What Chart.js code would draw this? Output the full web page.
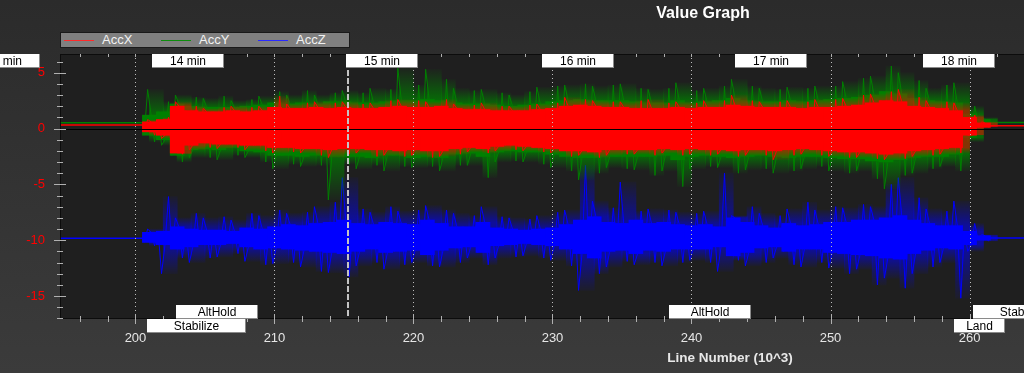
<!DOCTYPE html>
<html>
<head>
<meta charset="utf-8">
<script src="https://cdn.jsdelivr.net/npm/chart.js@4.4.1/dist/chart.umd.min.js"></script>
<style>
  html, body { margin: 0; padding: 0; }
  body {
    width: 1024px; height: 373px; overflow: hidden; position: relative;
    background: linear-gradient(#2b2b2b, #3b3b3b);
    font-family: "Liberation Sans", Arial, sans-serif;
  }
  #chart { position: absolute; left: 0; top: 0; }
  #title {
    position: absolute; left: 603px; width: 200px; top: 5px; text-align: center;
    color: #fff; font-weight: bold; font-size: 16px; line-height: 16px;
  }
  #legend {
    position: absolute; left: 60px; top: 32px; width: 288px; height: 14px;
    background: #808080; border: 1px solid #1a1a1a;
  }
  #legend .sw { position: absolute; top: 7px; width: 30px; height: 1px; }
  #legend .lbl { position: absolute; top: 0; color: #f2f2f2; font-size: 13px; line-height: 14px; }
  #xtitle {
    position: absolute; left: 630px; width: 200px; top: 351px; text-align: center;
    color: #e8e8e8; font-weight: bold; font-size: 13.5px; line-height: 14px;
  }
</style>
</head>
<body>
<canvas id="chart" width="1024" height="373"></canvas>
<div id="title">Value Graph</div>
<div id="legend"></div>
<div id="xtitle">Line Number (10^3)</div>
<script>
// line number bins (x 1000) during the flight
const bins = Array.from({ length: 61 }, (_, i) => 201 + i);

// AccX: dense band and extreme spikes per bin
const accXHi = [0.6,0.8,2.0,1.6,1.5,1.5,1.6,1.5,1.6,1.9, 1.8,1.8,1.9,1.8,1.9,1.8,1.8,1.9,2.0,1.9, 1.9,2.0,1.8,1.7,1.7,1.6,1.6,1.6,1.7,1.8, 2.0,2.1,2.0,1.9,1.9,1.8,1.8,1.8,1.9,1.8, 1.9,1.9,2.1,2.0,1.9,1.9,1.9,1.8,1.9,1.9, 2.0,2.1,2.3,2.5,2.4,2.0,1.9,1.8,1.6,1.0, 0.5];
const accXLo = [-0.3,-0.6,-2.2,-1.5,-1.3,-1.4,-1.4,-1.5,-1.5,-1.7, -1.7,-1.8,-1.8,-1.9,-1.8,-1.8,-1.9,-1.9,-2.0,-1.9, -2.0,-2.0,-1.8,-1.7,-1.8,-1.6,-1.5,-1.6,-1.7,-1.8, -2.0,-2.0,-2.1,-1.9,-1.9,-1.9,-1.9,-1.8,-1.9,-1.8, -1.9,-1.9,-2.0,-1.9,-1.9,-2.0,-1.9,-1.8,-1.9,-2.0, -2.1,-2.1,-2.2,-2.3,-2.2,-2.0,-1.9,-1.8,-1.7,-0.6, 0.1];
const accXPkHi = [0.8,1.0,2.4,2.0,1.8,1.9,2.0,1.9,2.0,2.9, 2.2,2.3,2.4,2.3,2.4,2.2,2.3,2.5,2.6,2.5, 2.4,2.6,2.2,2.1,2.3,2.0,2.0,2.1,2.2,2.3, 2.8,2.6,2.5,2.4,2.4,2.5,2.6,2.3,2.4,2.3, 2.5,2.5,3.0,2.5,2.4,2.4,2.5,2.4,2.6,2.6, 2.7,3.0,3.1,3.3,3.5,2.8,2.5,2.4,2.3,1.2, 0.6];
const accXPkLo = [-0.6,-0.9,-2.3,-1.9,-1.7,-1.8,-1.7,-1.9,-2.0,-2.2, -2.1,-2.2,-2.4,-2.6,-2.3,-2.2,-2.5,-2.4,-2.5,-2.4, -2.6,-2.5,-2.3,-2.1,-2.2,-2.0,-1.9,-2.0,-2.1,-2.2, -2.5,-2.4,-2.6,-2.4,-2.3,-2.3,-2.4,-2.2,-2.4,-2.3, -2.4,-2.3,-2.5,-2.4,-2.4,-2.8,-2.4,-2.3,-2.4,-2.5, -2.6,-2.6,-2.7,-2.8,-2.7,-2.5,-2.4,-2.3,-2.2,-0.6, 0.1];

// AccY
const accYHi = [1.2,1.5,2.2,2.0,1.9,1.9,1.9,2.0,2.1,2.3, 2.2,2.3,2.2,2.4,2.4,2.3,2.3,2.4,2.5,2.5, 2.6,2.5,2.3,2.2,2.2,2.1,2.0,2.1,2.2,2.4, 2.5,2.6,2.5,2.5,2.5,2.4,2.3,2.3,2.5,2.3, 2.4,2.5,2.7,2.5,2.4,2.4,2.5,2.4,2.5,2.6, 2.7,2.8,3.0,3.3,3.1,2.7,2.5,2.4,2.3,1.3, 0.8];
const accYLo = [-0.6,-1.0,-2.4,-1.9,-1.8,-1.9,-1.7,-2.0,-2.1,-2.4, -2.4,-2.5,-2.4,-2.5,-2.5,-2.5,-2.6,-2.4,-2.4,-2.6, -2.5,-2.6,-2.3,-2.2,-2.5,-2.1,-2.0,-2.1,-2.1,-2.3, -2.5,-2.6,-2.6,-2.5,-2.5,-2.5,-2.5,-2.4,-2.8,-2.5, -2.4,-2.5,-2.6,-2.5,-2.4,-2.5,-2.6,-2.5,-2.5,-2.6, -2.7,-2.7,-2.9,-3.0,-2.8,-2.6,-2.5,-2.5,-2.3,-0.8, 0.35];
const accYPkHi = [3.5,2.4,3.0,2.8,2.7,2.9,2.5,2.6,2.9,3.3, 3.0,3.4,3.0,3.2,3.4,3.2,3.6,3.5,5.4,3.9, 5.3,4.4,3.6,3.4,3.5,3.2,3.0,3.3,3.7,3.8, 3.9,4.0,3.8,3.9,4.0,3.6,3.5,3.6,4.1,3.4, 3.6,3.8,4.4,3.8,3.6,3.5,3.7,3.6,3.8,3.8, 4.2,4.5,4.7,5.6,5.0,4.3,3.6,3.9,4.1,2.0, 1.0];
const accYPkLo = [-1.2,-1.5,-3.0,-2.6,-2.6,-2.8,-2.4,-2.6,-3.0,-3.6, -3.2,-3.4,-3.3,-6.4,-3.2,-3.6,-3.3,-3.8,-3.4,-3.5, -3.4,-3.8,-3.3,-3.3,-4.4,-3.0,-2.9,-3.0,-3.2,-3.5, -3.8,-4.6,-4.0,-3.5,-3.6,-3.7,-4.2,-3.8,-5.2,-3.6, -3.4,-3.5,-4.0,-3.7,-3.6,-4.0,-3.8,-3.6,-3.4,-3.8, -4.0,-3.8,-4.5,-5.4,-4.2,-4.0,-3.6,-3.4,-3.8,-1.2, 0.2];

// AccZ
const accZHi = [-9.3,-9.2,-8.8,-9.0,-9.1,-9.1,-9.2,-8.9,-9.0,-8.8, -8.6,-8.7,-8.5,-8.4,-8.2,-8.5,-8.6,-8.4,-8.5,-8.6, -8.2,-8.5,-8.8,-8.8,-8.4,-8.9,-9.0,-9.1,-9.0,-8.9, -8.6,-8.2,-7.9,-8.4,-8.5,-8.2,-8.5,-8.4,-8.6,-8.7, -8.6,-8.8,-8.0,-8.4,-8.7,-8.9,-8.5,-8.7,-8.6,-8.4, -8.4,-8.2,-8.2,-8.0,-7.8,-8.2,-8.5,-8.7,-8.7,-9.2, -9.6];
const accZLo = [-10.2,-10.4,-10.8,-10.6,-10.4,-10.4,-10.3,-10.6,-10.8,-10.7, -10.8,-10.9,-11.0,-11.1,-11.2,-11.0,-10.8,-11.1,-11.0,-10.9, -11.3,-10.9,-10.7,-10.6,-11.1,-10.5,-10.4,-10.3,-10.4,-10.5, -10.8,-11.2,-11.6,-11.0,-10.9,-11.2,-10.9,-11.0,-10.8,-10.8, -10.8,-10.6,-11.4,-11.1,-10.7,-10.6,-11.0,-10.8,-10.8,-11.1, -11.2,-11.3,-11.4,-11.6,-11.7,-11.2,-10.9,-10.7,-10.8,-10.4, -10.0];
const accZPkHi = [-9.0,-6.1,-8.0,-7.6,-8.0,-7.9,-8.2,-7.6,-7.8,-7.3, -7.6,-7.5,-7.0,-6.6,-4.4,-7.2,-7.5,-7.0,-7.4,-7.3, -6.9,-7.3,-7.6,-7.8,-7.0,-7.9,-8.0,-8.1,-7.8,-7.5, -7.3,-3.3,-6.5,-7.1,-4.8,-7.4,-7.2,-7.3,-7.5,-7.6, -7.4,-4.0,-7.8,-7.0,-7.6,-7.8,-7.2,-6.6,-7.3,-7.0, -7.1,-6.8,-7.0,-5.0,-4.4,-6.2,-7.2,-7.4,-6.5,-8.5, -9.5];
const accZPkLo = [-10.5,-13.0,-11.6,-12.0,-11.6,-11.5,-11.2,-11.9,-12.2,-12.1, -12.0,-12.4,-12.8,-12.9,-13.3,-12.3,-12.0,-12.6,-12.2,-12.0, -12.3,-12.4,-12.0,-11.6,-12.2,-11.6,-11.5,-11.4,-11.6,-11.8, -12.3,-14.5,-13.0,-12.4,-11.9,-12.2,-12.0,-12.3,-12.0,-11.8, -12.0,-12.8,-11.8,-12.3,-12.0,-11.6,-12.2,-12.4,-12.0,-12.5, -13.0,-12.6,-14.0,-13.4,-14.3,-13.0,-12.4,-12.0,-15.2,-11.0, -10.1];

// resting values before take-off and after landing
const restX = [194.5, 200.7, 261.3, 264];
const accXRest = [0.31, 0.31, 0.25, 0.25];
const accYRest = [0.52, 0.52, 0.55, 0.55];
const accZRest = [-9.83, -9.83, -9.8, -9.8];

const xTickValues = [200, 210, 220, 230, 240, 250, 260];
const yTickValues = [5, 0, -5, -10, -15];

const minuteLabels = ['13 min', '14 min', '15 min', '16 min', '17 min', '18 min'];
const minuteLines = [187.96, 201.17, 215.12, 229.23, 243.13, 256.64];
const markerLine = 215.31;

const modeNames = ['Stabilize', 'AltHold', 'AltHold', 'Land', 'Stabilize'];
const modeLines = [200.81, 202.9, 238.38, 258.91, 260.28];

const seriesNames = ['AccX', 'AccY', 'AccZ'];

// ---- styles ----
const seriesColors = ['#ff0000', '#008000', '#0000ff'];
const seriesRgb = ['255,0,0', '0,128,0', '0,0,255'];
const fringeAlpha = [0.5, 0.75, 0.55];
const legendColors = ['#ff2a2a', '#0c8c0c', '#2a2aff'];
const modeRows = [1, 0, 0, 1, 0]; // 1 = below the axis
const FONT = '"Liberation Sans", Arial, sans-serif';

const legend = document.getElementById('legend');
seriesNames.forEach((name, i) => {
  const sw = document.createElement('span');
  sw.className = 'sw';
  sw.style.left = (3 + i * 97) + 'px';
  sw.style.background = legendColors[i];
  legend.appendChild(sw);
  const lbl = document.createElement('span');
  lbl.className = 'lbl';
  lbl.style.left = (41 + i * 97) + 'px';
  lbl.textContent = name;
  legend.appendChild(lbl);
});

const series = [
  { hi: accXHi, lo: accXLo, pkHi: accXPkHi, pkLo: accXPkLo, rest: accXRest },
  { hi: accYHi, lo: accYLo, pkHi: accYPkHi, pkLo: accYPkLo, rest: accYRest },
  { hi: accZHi, lo: accZLo, pkHi: accZPkHi, pkLo: accZPkLo, rest: accZRest }
];

function bandData(lo, hi, shift) {
  return bins.map((b, i) => ({ x: b + shift, y: [lo[i], hi[i]] }));
}

// trace through band edges and peaks of every bin
function traceData(s) {
  const pts = [];
  bins.forEach((b, i) => {
    const seq = i % 2
      ? [s.hi[i], s.pkLo[i], s.lo[i], s.pkHi[i]]
      : [s.lo[i], s.pkHi[i], s.hi[i], s.pkLo[i]];
    seq.forEach((v, k) => pts.push({ x: b - 0.375 + k * 0.25, y: v }));
  });
  return pts;
}

function restData(vals) {
  return [
    { x: restX[0], y: vals[0] }, { x: restX[1], y: vals[1] },
    { x: 230, y: null },
    { x: restX[2], y: vals[2] }, { x: restX[3], y: vals[3] }
  ];
}

const clamp01 = v => Math.max(0, Math.min(1, v));

function fringeFill(s, k) {
  return (c) => {
    const yScale = c.chart.scales.y;
    if (c.type !== 'data' || !yScale) return 'rgba(0,0,0,0)';
    const i = c.dataIndex;
    const top = yScale.getPixelForValue(s.pkHi[i]);
    const bot = yScale.getPixelForValue(s.pkLo[i]);
    const h = bot - top;
    if (!(h > 1)) return 'rgba(0,0,0,0)';
    const f1 = clamp01((yScale.getPixelForValue(s.hi[i]) - top) / h);
    const f2 = Math.max(f1, clamp01((yScale.getPixelForValue(s.lo[i]) - top) / h));
    const g = c.chart.ctx.createLinearGradient(0, top, 0, bot);
    g.addColorStop(0, `rgba(${seriesRgb[k]},0.05)`);
    g.addColorStop(f1, `rgba(${seriesRgb[k]},${fringeAlpha[k]})`);
    g.addColorStop(f2, `rgba(${seriesRgb[k]},${fringeAlpha[k]})`);
    g.addColorStop(1, `rgba(${seriesRgb[k]},0.05)`);
    return g;
  };
}

const datasets = [];
series.forEach((s, i) => {
  const base = i * 10;
  datasets.push({
    label: seriesNames[i], data: bandData(s.lo, s.hi, 0), backgroundColor: seriesColors[i],
    barThickness: 14, grouped: false, borderWidth: 0, order: base
  });
  datasets.push({
    type: 'line', label: seriesNames[i] + ' trace', data: traceData(s), borderColor: seriesColors[i],
    borderWidth: 1, pointRadius: 0, tension: 0, order: base + 1
  });
  datasets.push({
    label: seriesNames[i] + ' fringe', data: bandData(s.pkLo, s.pkHi, 0.5), backgroundColor: fringeFill(s, i),
    barThickness: 14, grouped: false, borderWidth: 0, order: base + 2
  });
  datasets.push({
    type: 'line', label: seriesNames[i] + ' rest', data: restData(s.rest), borderColor: seriesColors[i],
    borderWidth: 1.5, pointRadius: 0, spanGaps: false, order: base + 3
  });
});

function drawBox(ctx, left, top, h, text, w) {
  ctx.fillStyle = '#ffffff';
  ctx.fillRect(left, top, w, h);
  ctx.fillStyle = '#8a8a8a';
  ctx.fillRect(left + w - 1, top, 1, h);
  ctx.fillRect(left, top + h - 1, w, 1);
  ctx.fillStyle = '#000000';
  ctx.textAlign = 'center';
  ctx.textBaseline = 'middle';
  ctx.fillText(text, left + w / 2, top + h / 2 + 0.5);
}

const overlay = {
  id: 'overlay',
  beforeDatasetsDraw(chart) {
    const { ctx, chartArea: a } = chart;
    ctx.save();
    ctx.fillStyle = '#1f1f1f';
    ctx.fillRect(a.left, a.top, a.right - a.left, a.bottom - a.top);
    ctx.restore();
  },
  afterDatasetsDraw(chart) {
    const { ctx, chartArea: a, scales: { x, y } } = chart;
    ctx.save();
    const seg = (x1, y1, x2, y2) => { ctx.beginPath(); ctx.moveTo(x1, y1); ctx.lineTo(x2, y2); ctx.stroke(); };

    // zero line
    const y0 = Math.round(y.getPixelForValue(0)) + 0.5;
    ctx.strokeStyle = '#000';
    ctx.lineWidth = 1;
    seg(a.left, y0, a.right, y0);

    // dotted grid at major x ticks
    ctx.setLineDash([1, 3]);
    ctx.strokeStyle = '#bdbdbd';
    xTickValues.forEach(v => {
      const px = Math.round(x.getPixelForValue(v)) + 0.5;
      seg(px, a.top, px, a.bottom);
    });

    // dashed marker
    ctx.setLineDash([6, 2]);
    ctx.lineWidth = 2;
    ctx.strokeStyle = '#c4c4c4';
    const mx = Math.round(x.getPixelForValue(markerLine));
    seg(mx, a.top, mx, a.bottom);
    ctx.setLineDash([]);

    // frame
    ctx.lineWidth = 1;
    ctx.strokeStyle = '#0c0c0c';
    ctx.strokeRect(a.left + 0.5, a.top + 0.5, a.right - a.left, a.bottom - a.top - 1);

    // tick marks
    ctx.strokeStyle = '#b0b0b0';
    for (let v = -17; v <= 6; v++) {
      const py = Math.round(y.getPixelForValue(v)) + 0.5;
      const len = v % 5 === 0 ? 6 : 3;
      seg(a.left - len, py, a.left + len, py);
    }
    for (let v = 196; v <= 263; v += 2) {
      const px = Math.round(x.getPixelForValue(v)) + 0.5;
      const len = v % 10 === 0 ? 5 : 3;
      seg(px, a.bottom - len, px, a.bottom + len);
      seg(px, a.top, px, a.top + 3);
    }

    ctx.font = '12px ' + FONT;
    // minute labels
    minuteLabels.forEach((t, i) => {
      const w = Math.round(2 * ctx.measureText(t).width);
      drawBox(ctx, Math.round(x.getPixelForValue(minuteLines[i])), a.top, 14, t, w);
    });

    // flight modes
    modeNames.forEach((t, i) => {
      const w = Math.round(2.56 * ctx.measureText(t).width - 17.5);
      const left = Math.round(x.getPixelForValue(modeLines[i]));
      const top = modeRows[i] ? a.bottom : a.bottom - 14;
      drawBox(ctx, left, top, 14, t, w);
    });
    ctx.restore();
  }
};

new Chart(document.getElementById('chart'), {
  type: 'bar',
  data: { datasets },
  options: {
    responsive: false,
    animation: false,
    devicePixelRatio: 1,
    layout: { padding: { top: 54, left: 0, right: 0, bottom: 0 } },
    plugins: { legend: { display: false }, tooltip: { enabled: false }, title: { display: false } },
    scales: {
      x: {
        type: 'linear', min: 194.57, max: 263.92, offset: false,
        grid: { display: false, drawTicks: false }, border: { display: false },
        afterBuildTicks: s => { s.ticks = xTickValues.map(v => ({ value: v })); },
        afterFit: s => { s.height = 54; },
        ticks: { color: '#e6e6e6', font: { family: FONT, size: 13 }, padding: 12, maxRotation: 0, autoSkip: false }
      },
      y: {
        min: -17.06, max: 6.675,
        grid: { display: false, drawTicks: false }, border: { display: false },
        afterBuildTicks: s => { s.ticks = yTickValues.map(v => ({ value: v })); },
        afterFit: s => { s.width = 60; },
        ticks: { color: '#ff0000', font: { family: FONT, size: 13 }, padding: 15 }
      }
    }
  },
  plugins: [overlay]
});
</script>
</body>
</html>
